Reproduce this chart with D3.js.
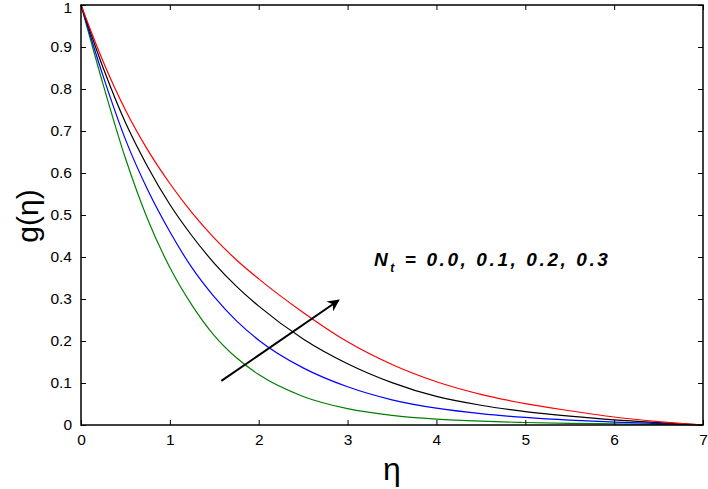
<!DOCTYPE html>
<html><head><meta charset="utf-8">
<script src="https://cdn.jsdelivr.net/npm/d3@7"></script>
<style>body{margin:0;background:#fff}svg{display:block}text{font-family:"Liberation Sans",Arial,sans-serif}</style>
</head><body>
<svg id="c" width="708" height="489"></svg>
<script>
const eta = [0,0.25,0.5,0.75,1,1.25,1.5,1.75,2,2.5,3,3.5,4,4.5,5,5.5,6,6.5,7];
const gNt00 = [1,0.81,0.635,0.49,0.375,0.285,0.213,0.16,0.12,0.068,0.039,0.023,0.014,0.009,0.006,0.004,0.0025,0.0012,0];
const gNt01 = [1,0.83,0.68,0.56,0.46,0.374,0.305,0.248,0.202,0.136,0.091,0.060,0.040,0.027,0.018,0.0115,0.007,0.0035,0];
const gNt02 = [1,0.85,0.72,0.615,0.525,0.45,0.385,0.33,0.283,0.205,0.146,0.101,0.068,0.047,0.032,0.021,0.012,0.0055,0];
const gNt03 = [1,0.865,0.75,0.655,0.575,0.505,0.445,0.393,0.348,0.268,0.198,0.144,0.103,0.073,0.051,0.034,0.019,0.008,0];
const seriesColors = ["#008000","#0000ff","#000000","#ff0000"];
const xTicks = [0,1,2,3,4,5,6,7];
const yTicks = [0,0.1,0.2,0.3,0.4,0.5,0.6,0.7,0.8,0.9,1];

const svg = d3.select("#c");
const L=81, R=703, T=5, B=425;
const x = d3.scaleLinear().domain([0,7]).range([L,R]);
const y = d3.scaleLinear().domain([0,1]).range([B,T]);

const series = [gNt00,gNt01,gNt02,gNt03];
const line = d3.line().x((d,i)=>x(eta[i])).y(d=>y(d)).curve(d3.curveMonotoneX);
series.forEach((s,k)=>{
  svg.append("path").datum(s).attr("d",line).attr("fill","none")
    .attr("stroke",seriesColors[k]).attr("stroke-width",1.2);
});

// box
svg.append("rect").attr("x",L).attr("y",T).attr("width",R-L).attr("height",B-T)
  .attr("fill","none").attr("stroke","#000").attr("stroke-width",1.5);

const fmt = d => d===0||d===1 ? String(d) : d3.format(".1f")(d);
const xb = svg.append("g").attr("transform",`translate(0,${B})`)
  .call(d3.axisBottom(x).tickValues(xTicks).tickSize(-5).tickPadding(9).tickFormat(d3.format("d")));
const xt = svg.append("g").attr("transform",`translate(0,${T})`)
  .call(d3.axisTop(x).tickValues(xTicks).tickSize(-5).tickFormat(""));
const yl = svg.append("g").attr("transform",`translate(${L},0)`)
  .call(d3.axisLeft(y).tickValues(yTicks).tickSize(-5).tickPadding(9).tickFormat(fmt));
const yr = svg.append("g").attr("transform",`translate(${R},0)`)
  .call(d3.axisRight(y).tickValues(yTicks).tickSize(-5).tickFormat(""));
[xb,xt,yl,yr].forEach(g=>{
  g.select(".domain").remove();
  g.selectAll(".tick line").attr("stroke","#000").attr("stroke-width",1);
  g.selectAll("text").attr("font-size",15.5).attr("fill","#000")
   .style("font-family","'Liberation Sans',Arial,sans-serif");
});
yl.selectAll(".tick text").filter(d=>d===1).attr("dy","0.5em");

// axis labels
svg.append("text").attr("x",392).attr("y",480).attr("text-anchor","middle")
  .attr("font-size",32).text("η");
svg.append("text").attr("transform","translate(38,216) rotate(-90)").attr("text-anchor","middle")
  .attr("font-size",30).text("g(η)");

// annotation
const ann = svg.append("text").attr("x",374).attr("y",266).attr("font-size",19)
  .attr("font-style","italic").attr("font-weight","bold").attr("letter-spacing",2.6);
ann.append("tspan").text("N");
ann.append("tspan").attr("dy",6).attr("font-size",12).text("t");
ann.append("tspan").attr("dy",-6).text(" = 0.0, 0.1, 0.2, 0.3");

// arrow
const defs = svg.append("defs");
defs.append("marker").attr("id","ah").attr("viewBox","0 0 10 10").attr("refX",9).attr("refY",5)
  .attr("markerWidth",13).attr("markerHeight",12).attr("markerUnits","userSpaceOnUse").attr("orient","auto")
  .append("path").attr("d","M0,0 L10,5 L0,10 L3,5 Z").attr("fill","#000");
svg.append("line").attr("x1",x(1.58)).attr("y1",y(0.105)).attr("x2",x(2.9)).attr("y2",y(0.297))
  .attr("stroke","#000").attr("stroke-width",2).attr("marker-end","url(#ah)");
</script>
</body></html>
